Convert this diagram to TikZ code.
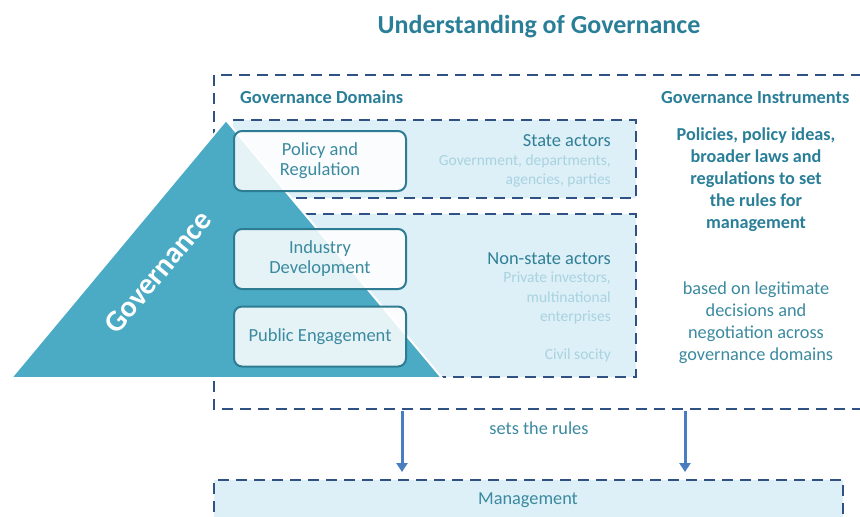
\documentclass[tikz,border=0pt]{standalone}
\usepackage{fontspec}
\setmainfont{Carlito}
\usetikzlibrary{arrows.meta}
\definecolor{titlec}{HTML}{2A7F98}
\definecolor{dashc}{HTML}{2F5183}
\definecolor{tric}{HTML}{4BAAC4}
\definecolor{lightc}{HTML}{DDEFF7}
\definecolor{boxc}{HTML}{2E7C93}
\definecolor{boxtext}{HTML}{3B8AA0}
\definecolor{actorc}{HTML}{2F7F96}
\definecolor{faintc}{HTML}{A9D3E0}
\definecolor{arrowc}{HTML}{4A7DC0}
\tikzset{
  dashline/.style={draw=dashc, line width=2.6pt, dash pattern=on 11pt off 7pt},
  domainbox/.style={draw=boxc, line width=2pt, rounded corners=8pt, fill=white, fill opacity=0.86, text opacity=1,
    minimum width=172pt, minimum height=60pt, align=center, text=boxtext, inner sep=0pt,
    font=\fontsize{18.5}{20}\selectfont},
  header/.style={anchor=base west, inner sep=0pt, text=titlec, font=\fontsize{18.4}{22}\selectfont\bfseries},
  actor/.style={anchor=east, inner sep=0pt, align=right, text=actorc, font=\fontsize{18.4}{20}\selectfont},
  faint/.style={anchor=east, inner sep=0pt, align=right, text=faintc, font=\fontsize{15.5}{19.5}\selectfont},
  instr/.style={inner sep=0pt, align=center, text=titlec, font=\fontsize{18.2}{22}\selectfont\bfseries},
  instrplain/.style={inner sep=0pt, align=center, text=boxtext, font=\fontsize{18.3}{22}\selectfont},
  rulearrow/.style={draw=arrowc, line width=3pt, -{Triangle[width=11pt,length=9pt]}}
}
\begin{document}
\begin{tikzpicture}[x=1pt,y=-1pt]
\useasboundingbox (0,0) rectangle (860,517);
\fill[white] (0,0) rectangle (860,517);

% title
\node[inner sep=0pt, text=titlec, font=\fontsize{26}{30}\selectfont\bfseries] (title) at (539,27) {Understanding of Governance};

% light actor boxes
\fill[lightc] (233,120) rectangle (636,198);
\draw[dashline] (233,120) -- (636,120) -- (636,198) -- (233,198);
\fill[lightc] (233,214) rectangle (636,377);
\draw[dashline] (233,214) -- (636,214) -- (636,377) -- (233,377);

% outer box
\draw[dashline] (880,75) -- (214,75) -- (214,409) -- (880,409);

% management box
\fill[lightc] (214,480) rectangle (843,530);
\draw[dashline] (214,530) -- (214,480) -- (843,480) -- (843,530);
\node[inner sep=0pt, text=boxtext, font=\fontsize{18.3}{22}\selectfont] (mgmt) at (528,500) {Management};

% triangle
\filldraw[fill=tric, draw=white, line width=2pt, line join=miter] (11,378) -- (226,120) -- (442,378) -- cycle;
\node[rotate=50, inner sep=0pt, text=white, font=\fontsize{30}{32}\selectfont\bfseries] (gov) at (158,272) {Governance};

% domain boxes
\node[domainbox] (policy) at (320,161) {Policy and\\Regulation};
\node[domainbox] (industry) at (320,259) {Industry\\Development};
\node[domainbox] (public) at (320,336.5) {Public Engagement};

% headers
\node[header] (domains) at (240,103) {Governance Domains};
\node[header] (instruments) at (661,103) {Governance Instruments};

% actors
\node[actor] (state) at (611,141) {State actors};
\node[faint] (statelist) at (611,171) {Government, departments,\\agencies, parties};
\node[actor] (nonstate) at (611,259) {Non-state actors};
\node[faint] (nonstatelist) at (611,298) {Private investors,\\multinational\\enterprises};
\node[faint] (civil) at (611,355) {Civil socity};

% instruments text
\node[instr] (policies) at (756,180) {Policies, policy ideas,\\broader laws and\\regulations to set\\the rules for\\management};
\node[instrplain] (based) at (756,323) {based on legitimate\\decisions and\\negotiation across\\governance domains};

% arrows
\coordinate (a1s) at (402,411);
\coordinate (a1e) at (402,472);
\coordinate (a2s) at (685,411);
\coordinate (a2e) at (685,472);
\draw[rulearrow] (a1s) -- (a1e);
\draw[rulearrow] (a2s) -- (a2e);
\node[inner sep=0pt, text=boxtext, font=\fontsize{18.3}{22}\selectfont] (sets) at (539,428) {sets the rules};
\end{tikzpicture}
\end{document}
